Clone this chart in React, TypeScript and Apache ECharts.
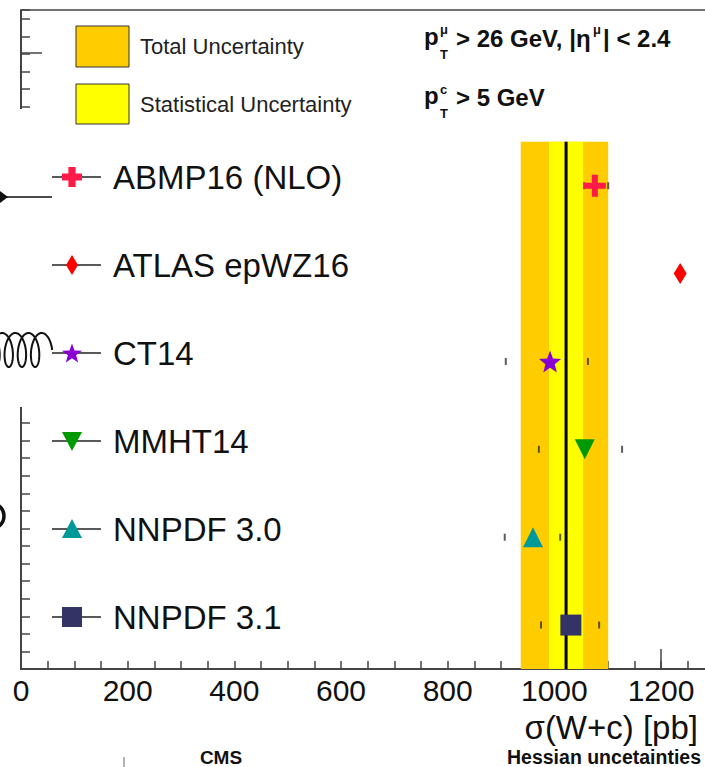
import React, { useEffect, useRef } from 'react';
import * as echarts from 'echarts';

const models = ['ABMP16 (NLO)', 'ATLAS epWZ16', 'CT14', 'MMHT14', 'NNPDF 3.0', 'NNPDF 3.1'];
const rowPositions = [5.5, 4.5, 3.5, 2.5, 1.5, 0.5];
const predictions = [1076, 1236, 992, 1057, 960, 1031];
const errLow: (number | null)[] = [1056, null, 909, 971, 907, 975];
const errHigh: (number | null)[] = [1101, null, 1063, 1127, 1011, 1084];
const measured = 1022;
const totalBand = [937, 1101];
const statBand = [990, 1054];
const bandTop = 6;
const xTickLabels = [0, 200, 400, 600, 800, 1000, 1200];

const markerColors = ['#ff1a48', '#ff0000', '#8a00d0', '#009a00', '#009999', '#333366'];
const FONT = '"Liberation Sans", Arial, Helvetica, sans-serif';

const CROSS = 'path://M4,0H7V4H11V7H7V11H4V7H0V4H4Z';
const STAR =
  'path://M10,0L12.6,6.9L20,7.3L14.2,11.9L16.2,19L10,15L3.8,19L5.8,11.9L0,7.3L7.4,6.9Z';
const markerSymbols = [CROSS, 'diamond', STAR, 'triangle', 'triangle', 'rect'];
const markerSizes: any[] = [22, [13, 21], 22, [20, 20], [20, 20], 21];
const markerRotate = [0, 0, 0, 180, 0, 0];

function crossPts(cx: number, cy: number, s: number) {
  const h = s / 2, t = s * 0.18;
  return [
    [cx - t, cy - h], [cx + t, cy - h], [cx + t, cy - t], [cx + h, cy - t], [cx + h, cy + t],
    [cx + t, cy + t], [cx + t, cy + h], [cx - t, cy + h], [cx - t, cy + t], [cx - h, cy + t],
    [cx - h, cy - t], [cx - t, cy - t],
  ];
}
function starPts(cx: number, cy: number, R: number, r: number) {
  const pts: number[][] = [];
  for (let i = 0; i < 10; i++) {
    const a = -Math.PI / 2 + (i * Math.PI) / 5;
    const rr = i % 2 === 0 ? R : r;
    pts.push([cx + rr * Math.cos(a), cy + rr * Math.sin(a) + 1]);
  }
  return pts;
}

function legendMarker(i: number, cx: number, cy: number) {
  const fill = markerColors[i];
  switch (i) {
    case 0:
      return { type: 'polygon', shape: { points: crossPts(cx, cy, 20) }, style: { fill } };
    case 1:
      return {
        type: 'polygon',
        shape: { points: [[cx, cy - 10], [cx + 6, cy], [cx, cy + 10], [cx - 6, cy]] },
        style: { fill },
      };
    case 2:
      return { type: 'polygon', shape: { points: starPts(cx, cy, 10.5, 4.3) }, style: { fill } };
    case 3:
      return {
        type: 'polygon',
        shape: { points: [[cx - 10, cy - 9], [cx + 10, cy - 9], [cx, cy + 10]] },
        style: { fill },
      };
    case 4:
      return {
        type: 'polygon',
        shape: { points: [[cx - 10, cy + 9], [cx + 10, cy + 9], [cx, cy - 10]] },
        style: { fill },
      };
    default:
      return { type: 'rect', shape: { x: cx - 10, y: cy - 10, width: 20, height: 20 }, style: { fill } };
  }
}

export default function App() {
  const ref = useRef<HTMLDivElement>(null);
  useEffect(() => {
    if (!ref.current) return;
    const chart = echarts.init(ref.current, undefined, { renderer: 'svg' });

    const graphics: any[] = [];
    // white cover on the left (broken axis region)
    graphics.push({ type: 'rect', z: 100, shape: { x: 0, y: 109, width: 45, height: 298 }, style: { fill: '#ffffff' } });
    // top frame line
    graphics.push({ type: 'line', z: 100, shape: { x1: 21, y1: 10, x2: 705, y2: 10 }, style: { stroke: '#444', lineWidth: 1.5 } });
    // tall ticks
    graphics.push({ type: 'line', z: 100, shape: { x1: 21, y1: 53, x2: 42, y2: 53 }, style: { stroke: '#444', lineWidth: 1.5 } });
    graphics.push({ type: 'line', z: 100, shape: { x1: 661, y1: 649, x2: 661, y2: 669 }, style: { stroke: '#444', lineWidth: 1.5 } });
    // fermion arrow line
    graphics.push({ type: 'line', z: 101, shape: { x1: 0, y1: 197, x2: 52, y2: 197 }, style: { stroke: '#111', lineWidth: 1.5 } });
    graphics.push({ type: 'polygon', z: 101, shape: { points: [[0, 191], [8, 197], [0, 203]] }, style: { fill: '#111' } });
    // gluon spring
    const gl: number[][] = [];
    for (let t = 0; t <= Math.PI * 9.2; t += 0.08) {
      const x = 45 - 2.1 * t + 7.2 * Math.cos(t);
      const y = 350 - 17 * Math.sin(t);
      gl.push([x, y]);
    }
    graphics.push({ type: 'polyline', z: 101, shape: { points: gl }, style: { stroke: '#111', lineWidth: 2, fill: 'none' } });
    // partial bracket
    graphics.push({
      type: 'arc', z: 101,
      shape: { cx: -9, cy: 516, r: 13, startAngle: -0.9, endAngle: 0.9 },
      style: { stroke: '#111', lineWidth: 3.5, fill: 'none' },
    });

    // uncertainty legend boxes
    graphics.push({ type: 'rect', z: 100, shape: { x: 76, y: 26, width: 53, height: 41 }, style: { fill: '#ffcc00', stroke: '#333', lineWidth: 1 } });
    graphics.push({ type: 'rect', z: 100, shape: { x: 76, y: 84, width: 53, height: 40 }, style: { fill: '#ffff00', stroke: '#333', lineWidth: 1 } });
    graphics.push({ type: 'text', z: 100, x: 140, y: 46, style: { text: 'Total Uncertainty', fontSize: 22, fontFamily: FONT, fill: '#222', align: 'left', verticalAlign: 'middle' } });
    graphics.push({ type: 'text', z: 100, x: 140, y: 104, style: { text: 'Statistical Uncertainty', fontSize: 22, fontFamily: FONT, fill: '#222', align: 'left', verticalAlign: 'middle' } });

    // cut texts
    const bold = (text: string, x: number, y: number, size: number, align = 'left') => ({
      type: 'text', z: 100, x, y,
      style: { text, fontSize: size, fontWeight: 'bold', fontFamily: FONT, fill: '#111', align, verticalAlign: 'middle' },
    });
    graphics.push(bold('p', 424, 36, 24));
    graphics.push(bold('\u03bc', 440, 29, 13));
    graphics.push(bold('T', 440, 54, 13));
    graphics.push(bold('> 26 GeV, |\u03b7', 456, 38, 24));
    graphics.push(bold('\u03bc', 593, 29, 13));
    graphics.push(bold('| < 2.4', 603, 38, 24));
    graphics.push(bold('p', 424, 95, 24));
    graphics.push(bold('c', 440, 89, 13));
    graphics.push(bold('T', 440, 113, 13));
    graphics.push(bold('> 5 GeV', 456, 97, 24));

    // model legend
    const legendY = [177, 265, 353, 441, 529, 617];
    models.forEach((m, i) => {
      const y = legendY[i];
      graphics.push({ type: 'line', z: 102, shape: { x1: 52, y1: y, x2: 101, y2: y }, style: { stroke: '#222', lineWidth: 1.5 } });
      graphics.push({ ...legendMarker(i, 72, y), z: 103 });
      graphics.push({ type: 'text', z: 102, x: 113, y, style: { text: m, fontSize: 33, fontFamily: FONT, fill: '#111', align: 'left', verticalAlign: 'middle' } });
    });

    // axis title and footer
    graphics.push({ type: 'text', z: 100, x: 698, y: 727, style: { text: '\u03c3(W+c) [pb]', fontSize: 33, fontFamily: FONT, fill: '#111', align: 'right', verticalAlign: 'middle' } });
    graphics.push({ type: 'text', z: 100, x: 221, y: 757, style: { text: 'CMS', fontSize: 19, fontWeight: 'bold', fontFamily: FONT, fill: '#111', align: 'center', verticalAlign: 'middle' } });
    graphics.push({ type: 'text', z: 100, x: 701, y: 757, style: { text: 'Hessian uncetainties', fontSize: 19.5, fontWeight: 'bold', fontFamily: FONT, fill: '#111', align: 'right', verticalAlign: 'middle' } });
    graphics.push({ type: 'line', z: 100, shape: { x1: 124, y1: 757, x2: 124, y2: 767 }, style: { stroke: '#666', lineWidth: 1 } });

    const series: any[] = [
      {
        type: 'custom',
        z: 1,
        silent: true,
        encode: { x: [0, 1], y: 2 },
        data: [
          [totalBand[0], totalBand[1], bandTop, 0],
          [statBand[0], statBand[1], bandTop, 1],
        ],
        renderItem: (params: any, api: any) => {
          const p1 = api.coord([api.value(0), api.value(2)]);
          const p2 = api.coord([api.value(1), 0]);
          return {
            type: 'rect',
            shape: { x: p1[0], y: p1[1], width: p2[0] - p1[0], height: p2[1] - p1[1] },
            style: { fill: api.value(3) === 0 ? '#ffcc00' : '#ffff00' },
          };
        },
      },
      {
        type: 'custom',
        z: 2,
        silent: true,
        encode: { x: 0, y: 1 },
        data: [[measured, bandTop]],
        renderItem: (params: any, api: any) => {
          const p1 = api.coord([api.value(0), api.value(1)]);
          const p2 = api.coord([api.value(0), 0]);
          return {
            type: 'line',
            shape: { x1: p1[0], y1: p1[1], x2: p2[0], y2: p2[1] },
            style: { stroke: '#000', lineWidth: 3 },
          };
        },
      },
      {
        type: 'scatter',
        z: 3,
        symbol: 'rect',
        symbolSize: [2, 7],
        itemStyle: { color: '#333' },
        data: [
          ...errLow.map((v, i) => (v == null ? null : [v, rowPositions[i]])).filter(Boolean),
          ...errHigh.map((v, i) => (v == null ? null : [v, rowPositions[i]])).filter(Boolean),
        ],
      },
      ...models.map((m, i) => ({
        name: m,
        type: 'scatter',
        z: 4,
        symbol: markerSymbols[i],
        symbolSize: markerSizes[i],
        symbolRotate: markerRotate[i],
        itemStyle: { color: markerColors[i], opacity: 1 },
        data: [[predictions[i], rowPositions[i]]],
      })),
    ];

    chart.setOption({
      animation: false,
      backgroundColor: '#ffffff',
      grid: { left: 21, right: 0, top: 10, bottom: 98, containLabel: false },
      xAxis: {
        type: 'value',
        min: 0,
        max: 1282.5,
        interval: 50,
        splitLine: { show: false },
        axisLine: { show: true, lineStyle: { color: '#444', width: 2 } },
        axisTick: { inside: true, length: 8, lineStyle: { color: '#444', width: 1.5 } },
        axisLabel: {
          margin: 6,
          fontSize: 30,
          fontFamily: FONT,
          color: '#111',
          showMaxLabel: false,
          formatter: (v: number) => (xTickLabels.includes(v) ? String(v) : ''),
        },
      },
      yAxis: {
        type: 'value',
        min: 0,
        max: 7.5,
        interval: 0.2,
        splitLine: { show: false },
        axisLine: { show: true, lineStyle: { color: '#444', width: 2 } },
        axisTick: { inside: true, length: 9, lineStyle: { color: '#444', width: 1.5 } },
        axisLabel: { show: false },
      },
      graphic: graphics,
      series,
    });
    return () => chart.dispose();
  }, []);
  return <div ref={ref} style={{ position: 'fixed', left: 0, top: 0, width: 705, height: 767 }} />;
}
